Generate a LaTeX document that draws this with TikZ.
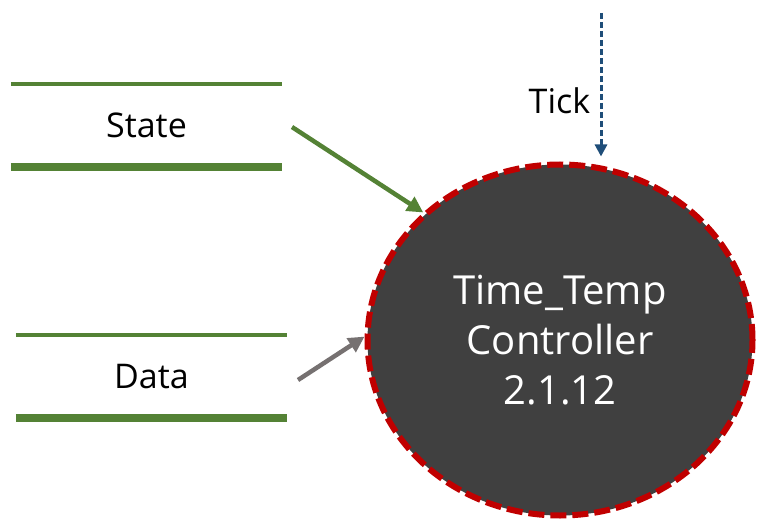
\documentclass[tikz,border=0pt]{standalone}
\usepackage{fontspec}
\setmainfont{Open Sans}
\usetikzlibrary{arrows.meta, positioning, shapes.geometric}
\definecolor{dfdgreen}{RGB}{84, 130, 53}
\definecolor{dfdred}{RGB}{192, 0, 0}
\definecolor{dfddark}{RGB}{64, 64, 64}
\definecolor{dfdblue}{RGB}{31, 78, 121}
\definecolor{dfdgray}{RGB}{118, 113, 113}

\begin{document}
\begin{tikzpicture}[x=1pt, y=-1pt,
  store/.style={minimum width=271pt, minimum height=83pt, inner sep=0pt,
                font=\fontsize{34}{40}\selectfont},
  flow/.style={-{Triangle[length=16pt, width=16pt]}, line width=4.5pt},
  tickflow/.style={-{Triangle[length=12pt, width=12pt]}, dfdblue,
                   line width=3pt, dash pattern=on 6pt off 3pt}]
  \useasboundingbox (0,0) rectangle (757,521);
  % Data stores
  \node[store] (state) at (146.5,125.5) {State};
  \node[store] (data) at (151.5,376.5) {Data};
  \foreach \s in {state, data} {
    \draw[dfdgreen, line width=4pt] (\s.north west) -- (\s.north east);
    \draw[dfdgreen, line width=7.5pt] (\s.south west) -- (\s.south east);
  }
  % Process
  \node[ellipse, draw=dfdred, fill=dfddark, line width=6pt,
        dash pattern=on 16pt off 6pt, minimum width=385pt,
        minimum height=351pt, inner sep=0pt, text=white, align=center,
        font=\fontsize{40}{50}\selectfont] (ctrl) at (560,340)
        {Time\_Temp\\Controller\\2.1.12};
  % Flows
  \coordinate (statetail) at (292,127);
  \coordinate (datatail) at (298,380);
  \coordinate (ticktail) at (601,13);
  \draw[flow, dfdgreen] (statetail) -- (ctrl.137);
  \draw[flow, dfdgray] (datatail) -- (ctrl.179);
  \draw[tickflow, shorten >=5pt] (ticktail) --
    node[left=6pt, pos=0.59, text=black,
         font=\fontsize{34}{40}\selectfont]{Tick}
    (ticktail |- ctrl.north);
\end{tikzpicture}
\end{document}
